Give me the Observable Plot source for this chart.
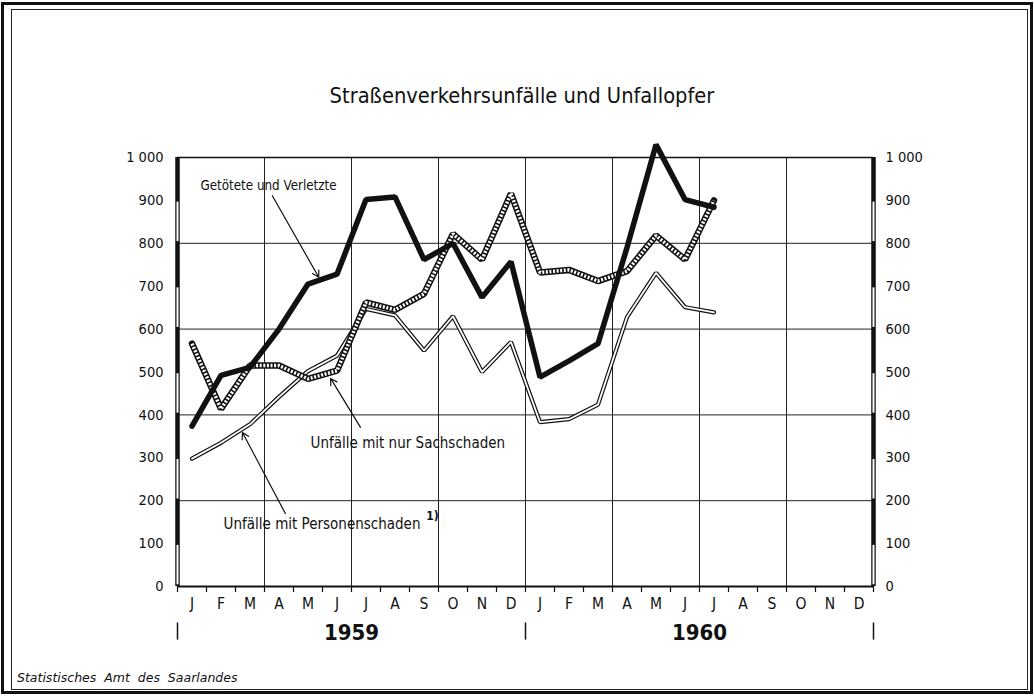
<!DOCTYPE html>
<html>
<head>
<meta charset="utf-8">
<script src="https://cdn.jsdelivr.net/npm/d3@7"></script>
<script src="https://cdn.jsdelivr.net/npm/@observablehq/plot@0.6"></script>
<style>
  html, body { margin: 0; padding: 0; background: #fff; }
  #wrap { position: relative; width: 1034px; height: 696px; overflow: hidden; background: #fff;
          font-family: "DejaVu Sans Condensed", "DejaVu Sans", sans-serif; color: #111; }
  #outer { position: absolute; left: 1px; top: 2px; right: 1px; bottom: 2px; border: 3px solid #111; }
  #inner { position: absolute; left: 11px; top: 9px; right: 6px; bottom: 6px; border: 1px solid #222; }
  #title { position: absolute; top: 83px; left: 0; width: 1044px; text-align: center; font-size: 21.7px; }
  #source { position: absolute; left: 17px; top: 670px; font-size: 12.5px; font-style: italic; font-family: "DejaVu Sans", sans-serif; }
  #chart { position: absolute; left: 0; top: 0; }
</style>
</head>
<body>
<div id="wrap">
  <div id="outer"></div>
  <div id="inner"></div>
  <div id="title">Straßenverkehrsunfälle und Unfallopfer</div>
  <div id="chart"></div>
  <div id="source">Statistisches&nbsp; Amt&nbsp; des&nbsp; Saarlandes</div>
</div>
<script>
// ---- data (Jan 1959 .. Jul 1960) ----
const monthLabels = ["J","F","M","A","M","J","J","A","S","O","N","D"];
const years = ["1959", "1960"];
const yTicks = [0, 100, 200, 300, 400, 500, 600, 700, 800, 900, 1000];
const getoetete    = [374, 492, 511, 600, 705, 728, 902, 908, 762, 800, 674, 757, 488, 526, 566, 790, 1030, 902, 884];
const sachschaden  = [566, 414, 515, 515, 484, 503, 662, 645, 682, 822, 762, 916, 732, 738, 712, 735, 818, 762, 900];
const personen     = [298, 335, 378, 442, 502, 538, 647, 632, 550, 630, 500, 570, 383, 390, 424, 628, 731, 651, 639];

const labelGet = "Getötete und Verletzte";
const labelSach = "Unfälle mit nur Sachschaden";
const labelPers = "Unfälle mit Personenschaden";
const footnoteMark = "1)";

const toRows = arr => arr.map((v, i) => ({m: i + 0.5, v}));
const rowsGet = toRows(getoetete), rowsSach = toRows(sachschaden), rowsPers = toRows(personen);

// scale-bar segments on both vertical axes
const segs = d3.range(10).map(k => ({y1: k * 100, y2: k * 100 + 100, dark: k % 2 === 1}));
const whiteSegs = segs.filter(s => !s.dark);

const fmt = d => d === 1000 ? "1 000" : String(d);
const font = "DejaVu Sans Condensed, DejaVu Sans, sans-serif";

const chart = Plot.plot({
  width: 1034,
  height: 696,
  marginLeft: 177,
  marginRight: 161,
  marginTop: 157,
  marginBottom: 110,
  style: {fontFamily: font, fontSize: "14px", color: "#111", background: "transparent", overflow: "visible"},
  x: {domain: [0, 24]},
  y: {domain: [0, 1000]},
  marks: [
    // grid
    Plot.ruleY([200, 400, 600, 800], {stroke: "#222", strokeWidth: 1}),
    Plot.ruleX([3, 6, 9, 12, 15, 18, 21], {stroke: "#222", strokeWidth: 1}),
    Plot.ruleY([1000], {stroke: "#111", strokeWidth: 1.5}),
    Plot.ruleY([0], {stroke: "#111", strokeWidth: 2}),
    // month ticks
    Plot.ruleX(d3.range(0, 25), {y1: 0, y2: -14, stroke: "#111", strokeWidth: 1.2}),
    // axes
    Plot.axisY(yTicks, {anchor: "left", tickSize: 0, tickPadding: 14, tickFormat: fmt, fontSize: 14.5, label: null}),
    Plot.axisY(yTicks, {anchor: "right", tickSize: 0, tickPadding: 12, tickFormat: fmt, fontSize: 14.5, label: null}),
    Plot.axisX(d3.range(24).map(i => i + 0.5), {tickSize: 0, tickPadding: 11, fontSize: 15.5,
      tickFormat: d => monthLabels[Math.floor(d) % 12], label: null}),
    // scale bars
    Plot.ruleX([0, 24], {y1: 0, y2: 1000, stroke: "#111", strokeWidth: 4.5}),
    Plot.ruleX(whiteSegs, {x: () => 0, y1: d => d.y1 + 4, y2: d => d.y2 - 4, stroke: "#fff", strokeWidth: 2}),
    Plot.ruleX(whiteSegs, {x: () => 24, y1: d => d.y1 + 4, y2: d => d.y2 - 4, stroke: "#fff", strokeWidth: 2}),
    // year separators and labels
    Plot.ruleX([0, 12, 24], {y1: -85, y2: -125, stroke: "#111", strokeWidth: 1.5}),
    Plot.text(years, {x: (d, i) => i * 12 + 6, y: 0, dy: 46, text: d => d, fontSize: 22, fontWeight: "bold"}),
    // series: Personenschaden (double thin line)
    Plot.line(rowsPers, {x: "m", y: "v", stroke: "#111", strokeWidth: 4.2, strokeLinejoin: "miter"}),
    Plot.line(rowsPers, {x: "m", y: "v", stroke: "#fff", strokeWidth: 1.8, strokeLinejoin: "miter"}),
    // series: Sachschaden (hatched line)
    Plot.line(rowsSach, {x: "m", y: "v", stroke: "#111", strokeWidth: 6.5, strokeLinejoin: "miter"}),
    Plot.line(rowsSach, {x: "m", y: "v", stroke: "#fff", strokeWidth: 3.5, strokeDasharray: "2,1.6", strokeLinecap: "butt", strokeLinejoin: "miter"}),
    // series: Getötete und Verletzte (thick black)
    Plot.line(rowsGet, {x: "m", y: "v", stroke: "#111", strokeWidth: 5.5, strokeLinejoin: "miter"}),
    // annotations
    Plot.text([labelGet], {x: 0.79, y: 935, text: d => d, textAnchor: "start", fontSize: 13.3}),
    Plot.arrow([0], {x1: 3.27, y1: 911, x2: 4.87, y2: 721, stroke: "#111", strokeWidth: 1.2, headLength: 9, bend: 0}),
    Plot.text([labelSach], {x: 4.59, y: 334, text: d => d, textAnchor: "start", fontSize: 15}),
    Plot.arrow([0], {x1: 6.31, y1: 371, x2: 5.28, y2: 485, stroke: "#111", strokeWidth: 1.2, headLength: 9, bend: 0}),
    Plot.text([labelPers], {x: 1.59, y: 145, text: d => d, textAnchor: "start", fontSize: 15}),
    Plot.text([footnoteMark], {x: 8.58, y: 163, text: d => d, textAnchor: "start", fontSize: 12, fontWeight: "bold"}),
    Plot.arrow([0], {x1: 3.72, y1: 170, x2: 2.24, y2: 359, stroke: "#111", strokeWidth: 1.2, headLength: 9, bend: 0})
  ]
});
document.getElementById("chart").appendChild(chart);
</script>
</body>
</html>
